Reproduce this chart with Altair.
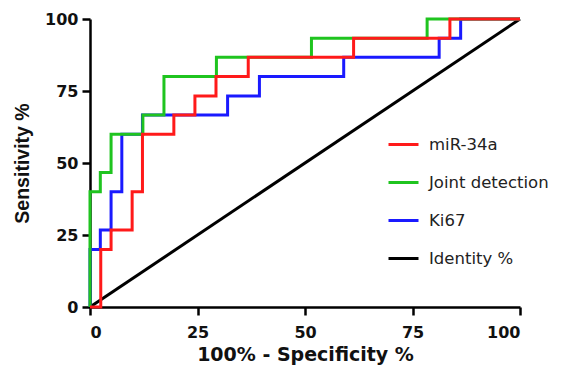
import altair as alt
import pandas as pd

series_names = ["miR-34a", "Joint detection", "Ki67", "Identity %"]
series_colors = ["#ff1a1a", "#1fc41f", "#1a1aff", "#000000"]

mir_fpr = [0, 2.5, 4.9, 9.8, 12.2, 19.5, 24.4, 29.3, 36.8, 61.3, 83.7, 100]
mir_tpr = [0, 20, 26.7, 40, 60, 66.7, 73.3, 80, 86.7, 93.3, 100, 100]

joint_fpr = [0, 0, 2.4, 4.9, 12.3, 17.2, 29.4, 51.5, 78.4, 100]
joint_tpr = [0, 40, 46.7, 60, 66.7, 80, 86.7, 93.3, 100, 100]

ki_fpr = [0, 0, 2.4, 4.9, 7.4, 12.2, 32.0, 39.4, 59.0, 81.2, 86.2, 100]
ki_tpr = [0, 20, 26.7, 40, 60, 66.7, 73.3, 80, 86.7, 93.3, 100, 100]

id_fpr = [0, 100]
id_tpr = [0, 100]


def frame(name, xs, ys):
    return pd.DataFrame({"fpr": xs, "tpr": ys, "series": name, "idx": list(range(len(xs)))})


color = alt.Color(
    "series:N",
    scale=alt.Scale(domain=series_names, range=series_colors),
    legend=alt.Legend(
        title=None,
        orient="none",
        legendX=297,
        legendY=109,
        symbolType="stroke",
        symbolSize=900,
        symbolStrokeWidth=3,
        labelFont="DejaVu Sans",
        labelFontSize=16.5,
        labelColor="#222222",
        labelOffset=9,
        rowPadding=13,
        padding=0,
    ),
)

xenc = alt.X(
    "fpr:Q",
    scale=alt.Scale(domain=[0, 100], nice=False),
    axis=alt.Axis(
        values=[0, 25, 50, 75, 100],
        title="100% - Specificity %",
        titleFont="DejaVu Sans",
        titleFontSize=19,
        titlePadding=5,
        labelPadding=9,
    ),
)
yenc = alt.Y(
    "tpr:Q",
    scale=alt.Scale(domain=[0, 100], nice=False),
    axis=alt.Axis(
        values=[0, 25, 50, 75, 100],
        title="Sensitivity %",
        titleFont="Liberation Sans",
        titleFontSize=19.5,
        titlePadding=12,
        labelPadding=4,
    ),
)


def layer(df, interp):
    return (
        alt.Chart(df)
        .mark_line(strokeWidth=3, interpolate=interp, clip=False)
        .encode(x=xenc, y=yenc, color=color, order="idx:Q")
    )


chart = (
    alt.layer(
        layer(frame("Identity %", id_fpr, id_tpr), "linear"),
        layer(frame("Ki67", ki_fpr, ki_tpr), "step-after"),
        layer(frame("Joint detection", joint_fpr, joint_tpr), "step-after"),
        layer(frame("miR-34a", mir_fpr, mir_tpr), "step-after"),
    )
    .properties(
        width=430,
        height=288,
        autosize=alt.AutoSizeParams(type="none"),
        padding={"left": 82, "top": 11, "right": 35, "bottom": 60},
    )
    .configure_view(stroke=None)
    .configure_axis(
        grid=False,
        domainColor="#000000",
        domainWidth=2.5,
        tickColor="#000000",
        tickWidth=2.5,
        tickSize=8,
        labelFont="DejaVu Sans",
        labelFontSize=16,
        labelFontWeight="bold",
        labelColor="#111111",
        titleFontWeight="bold",
        titleColor="#111111",
    )
)

chart.save("out.html", embed_options={"renderer": "svg", "actions": False})
